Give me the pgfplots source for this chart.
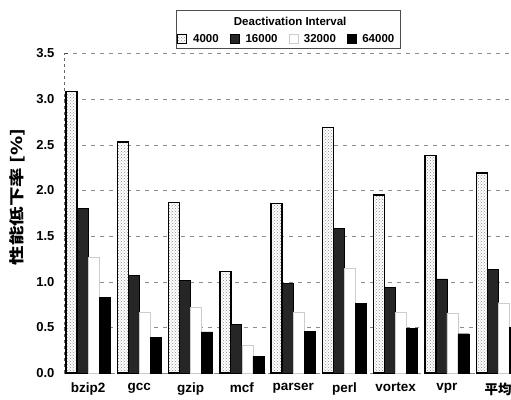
\documentclass[border=0pt]{standalone}
\usepackage{fontspec}
\setmainfont{Liberation Sans}
\newfontfamily\cjk{Noto Sans CJK JP}
\usepackage{graphicx}
\usepackage{pgfplots}
\pgfplotsset{compat=1.18}
\usepackage{pgfplotstable}
\usetikzlibrary{patterns}

% performance degradation [%] per benchmark and deactivation interval
\pgfplotstableread{
x   i4000 i16000 i32000 i64000
0   3.08  1.80   1.27   0.83
1   2.53  1.07   0.67   0.39
2   1.87  1.01   0.72   0.45
3   1.11  0.53   0.30   0.18
4   1.86  0.98   0.67   0.46
5   2.69  1.58   1.15   0.76
6   1.95  0.94   0.67   0.49
7   2.38  1.03   0.66   0.43
8   2.19  1.13   0.77   0.50
}\perfdata

\begin{document}
\begin{tikzpicture}
\begin{axis}[
  at={(0,0)}, anchor=south west,
  scale only axis,
  width=447pt, height=319.5pt,
  xmin=-0.47, xmax=8.25,
  ymin=0, ymax=3.5,
  ybar=0pt, bar width=11pt,
  clip mode=individual,
  axis x line*=bottom, axis y line*=left,
  x axis line style={black!45, dashed, -},
  y axis line style={black!60, dashed, -},
  xtick=data,
  xticklabels={bzip2,gcc,gzip,mcf,parser,perl,vortex,vpr,{\cjk\bfseries 平均}},
  x tick label style={font=\fontsize{13.5}{15}\selectfont\bfseries, yshift=-2pt},
  major x tick style={draw=none},
  ytick={0,0.5,...,3.5},
  y tick style={black!70},
  y tick label style={font=\fontsize{13}{15}\selectfont\bfseries, xshift=-6pt},
  yticklabel style={/pgf/number format/.cd, fixed, fixed zerofill, precision=1, assume math mode=true},
  ymajorgrids,
  grid style={black!45, dash pattern=on 4pt off 5pt},
  every axis y label/.style={at={(axis description cs:-0.105,0.551)}, rotate=90, anchor=center},
  ylabel={\scalebox{1.3}[1]{\cjk\bfseries\fontsize{15}{17}\selectfont 性能低下率 [\%]}},
  legend columns=4,
  legend style={at={(axis description cs:0.498,1.045)}, anchor=center, draw=none, fill=none,
    font=\fontsize{11.5}{13}\selectfont\bfseries, inner sep=0pt,
    /tikz/every odd column/.append style={column sep=4pt},
    /tikz/every even column/.append style={column sep=9pt}},
  legend image code/.code={\draw[#1] (0pt,-4.5pt) rectangle (9pt,4.5pt);},
]
\addplot[draw=black, line width=1.3pt, fill=white,
  postaction={pattern=crosshatch dots, pattern color=black!45}] table[x=x, y=i4000] {\perfdata};
\addplot[draw=black, line width=0.8pt, fill=black!85] table[x=x, y=i16000] {\perfdata};
\addplot[draw=black!20, line width=0.4pt, fill=white] table[x=x, y=i32000] {\perfdata};
\addplot[draw=black, fill=black] table[x=x, y=i64000] {\perfdata};
\legend{4000,16000,32000,64000}

\draw[black!70, line width=0.5pt] (axis description cs:0.2506,1.017) rectangle (axis description cs:0.7517,1.136);
\node[font=\fontsize{11.5}{13}\selectfont\bfseries] at (axis description cs:0.506,1.099) {Deactivation Interval};
\end{axis}
\pgfresetboundingbox
\useasboundingbox (-64pt,-26pt) rectangle (447pt,373pt);
\end{tikzpicture}
\end{document}
